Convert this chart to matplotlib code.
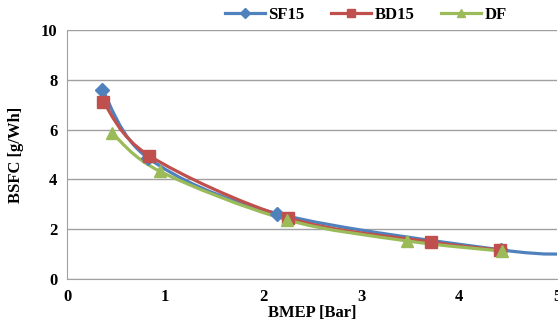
import matplotlib.pyplot as plt
from matplotlib.path import Path
from matplotlib.patches import PathPatch

# Values
sf15_x = [0.36, 0.83, 2.14, 4.43, 5.2]
sf15_y = [7.60, 4.85, 2.63, 1.17, 1.01]
bd15_x = [0.37, 0.84, 2.26, 3.71, 4.42]
bd15_y = [7.10, 4.95, 2.45, 1.49, 1.16]
df_x = [0.46, 0.95, 2.24, 3.47, 4.44]
df_y = [5.86, 4.32, 2.38, 1.53, 1.12]

blue = "#4F81BD"
red = "#C0504D"
green = "#9BBB59"

plt.rcParams["font.family"] = ["Liberation Serif", "DejaVu Serif"]
plt.rcParams["font.weight"] = "bold"


def smooth_path(xs, ys):
    # Excel-style smoothed line: Catmull-Rom segments as cubic Bezier curves
    pts = list(zip(xs, ys))
    verts = [pts[0]]
    codes = [Path.MOVETO]
    n = len(pts)
    for i in range(n - 1):
        p0 = pts[i - 1] if i > 0 else pts[i]
        p1 = pts[i]
        p2 = pts[i + 1]
        p3 = pts[i + 2] if i + 2 < n else pts[i + 1]
        c1 = (p1[0] + (p2[0] - p0[0]) / 6, p1[1] + (p2[1] - p0[1]) / 6)
        c2 = (p2[0] - (p3[0] - p1[0]) / 6, p2[1] - (p3[1] - p1[1]) / 6)
        verts += [c1, c2, p2]
        codes += [Path.CURVE4] * 3
    return Path(verts, codes)


fig = plt.figure(figsize=(5.58, 3.25), dpi=100)
ax = fig.add_axes([67 / 558, 1 - 279 / 325, 490 / 558, 249 / 325])

series = [
    ("SF15", sf15_x, sf15_y, blue, "D", 7),
    ("BD15", bd15_x, bd15_y, red, "s", 8),
    ("DF", df_x, df_y, green, "^", 8),
]
for label, xs, ys, color, marker, ms in series:
    ax.add_patch(PathPatch(smooth_path(xs, ys), facecolor="none", edgecolor=color,
                           lw=2.3, zorder=3))
    ax.plot(xs, ys, linestyle="none", marker=marker, markersize=ms, color=color, zorder=4)
    ax.plot([], [], color=color, lw=2.3, marker=marker, markersize=ms - 2, label=label)

ax.set_xlim(0, 5)
ax.set_ylim(0, 10)
ax.set_xticks(range(0, 6))
ax.set_yticks(range(0, 11, 2))
ax.tick_params(labelsize=12, length=0, pad=7)
ax.grid(axis="y", color="#A0A0A0", lw=1)
ax.set_axisbelow(True)
for side in ["top", "right"]:
    ax.spines[side].set_visible(False)
ax.spines["left"].set_color("#A0A0A0")
ax.spines["bottom"].set_color("#A0A0A0")

ax.set_xlabel("BMEP [Bar]", fontsize=12, fontweight="bold", labelpad=0)
ax.set_ylabel("BSFC [g/Wh]", fontsize=12, fontweight="bold", labelpad=12)

fig.legend(loc="center", bbox_to_anchor=(366 / 558, 1 - 15 / 325), ncol=3, frameon=False,
           fontsize=12, handlelength=2.4, columnspacing=1.6, handletextpad=0.2)

fig.savefig("out.png", dpi=100)
